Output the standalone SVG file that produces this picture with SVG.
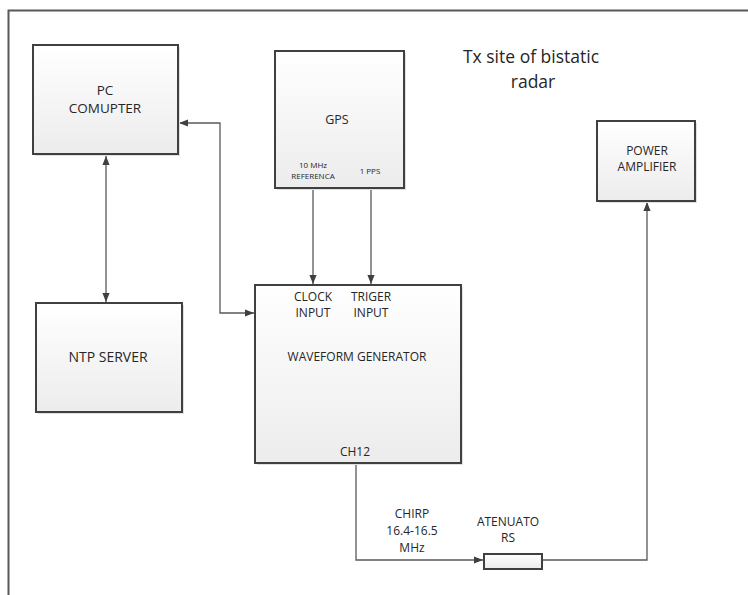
<svg xmlns="http://www.w3.org/2000/svg" width="748" height="595" viewBox="0 0 748 595">
<defs>
<linearGradient id="g" x1="0" y1="0" x2="0" y2="1">
<stop offset="0" stop-color="#ffffff"/>
<stop offset="1" stop-color="#ececec"/>
</linearGradient>
<marker id="ah" viewBox="0 0 10 10" refX="10" refY="5" markerWidth="9" markerHeight="9" markerUnits="userSpaceOnUse" orient="auto-start-reverse">
<path d="M0,1 L10,5 L0,9 z" fill="#404040"/>
</marker>
</defs>
<style>
.box{fill:url(#g);stroke:#404040;stroke-width:2}
.sh{fill:#e0e0e0}
.t{font-family:"Open Sans","Liberation Sans",sans-serif;font-size:12px;fill:#262626;text-anchor:middle}
.s{font-size:8px}
.c{fill:none;stroke:#595959;stroke-width:1.3}
</style>
<rect width="748" height="595" fill="#ffffff"/>
<path d="M8.5,595 V10.5 H748" fill="none" stroke="#595959" stroke-width="2"/>
<text class="t" x="531" y="63" style="font-size:17.5px">Tx site of bistatic</text>
<text class="t" x="533" y="88" style="font-size:17.5px">radar</text>

<g id="connectors">
<line class="c" x1="106" y1="156" x2="106" y2="302" marker-start="url(#ah)" marker-end="url(#ah)"/>
<polyline class="c" points="179,123 220,123 220,313 254,313" marker-start="url(#ah)" marker-end="url(#ah)"/>
<line class="c" x1="313" y1="188" x2="313" y2="284" marker-end="url(#ah)"/>
<line class="c" x1="371" y1="188" x2="371" y2="284" marker-end="url(#ah)"/>
<polyline class="c" points="356,463 356,560 483,560" marker-end="url(#ah)"/>
<polyline class="c" points="542,560 647,560 647,202" marker-end="url(#ah)"/>
</g>

<g id="pc">
<rect class="sh" x="35" y="47" width="145" height="109"/>
<rect class="box" x="33" y="45" width="145" height="109"/>
<text class="t" x="105" y="95" style="font-size:13.5px">PC</text>
<text class="t" x="105" y="113" style="font-size:13.5px">COMUPTER</text>
</g>

<g id="gps">
<rect class="sh" x="277" y="53" width="129" height="137"/>
<rect class="box" x="275" y="51" width="129" height="137"/>
<text class="t" x="337" y="124" style="font-size:12.5px">GPS</text>
<text class="t s" x="313" y="168">10 MHz</text>
<text class="t s" x="313" y="179">REFERENCA</text>
<text class="t s" x="370" y="174">1 PPS</text>
</g>

<g id="pa">
<rect class="sh" x="599" y="123" width="98" height="80"/>
<rect class="box" x="597" y="121" width="98" height="80"/>
<text class="t" x="647" y="155">POWER</text>
<text class="t" x="647" y="171">AMPLIFIER</text>
</g>

<g id="ntp">
<rect class="sh" x="38" y="305" width="146" height="109"/>
<rect class="box" x="36" y="303" width="146" height="109"/>
<text class="t" x="108" y="362" style="font-size:14px">NTP SERVER</text>
</g>

<g id="wg">
<rect class="sh" x="257" y="287" width="206" height="178"/>
<rect class="box" x="255" y="285" width="206" height="178"/>
<text class="t" x="313" y="301">CLOCK</text>
<text class="t" x="313" y="317">INPUT</text>
<text class="t" x="371" y="301">TRIGER</text>
<text class="t" x="371" y="317">INPUT</text>
<text class="t" x="357" y="361">WAVEFORM GENERATOR</text>
<text class="t" x="355" y="456">CH12</text>
</g>

<g id="att">
<rect class="box" x="484" y="554" width="58" height="15" stroke-width="1.3"/>
<text class="t" x="508" y="526">ATENUATO</text>
<text class="t" x="508" y="542">RS</text>
</g>

<g id="chirp">
<text class="t" x="412" y="518">CHIRP</text>
<text class="t" x="412" y="535">16.4-16.5</text>
<text class="t" x="412" y="552">MHz</text>
</g>
</svg>
